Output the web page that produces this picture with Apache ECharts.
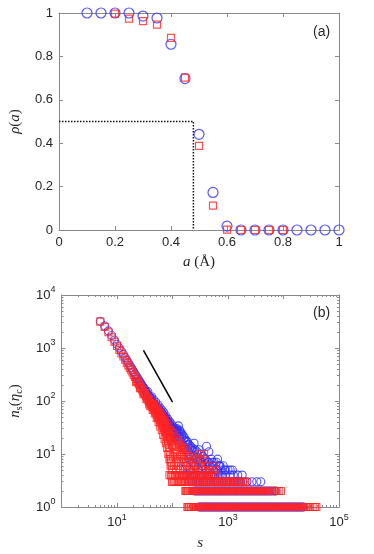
<!DOCTYPE html>
<html>
<head>
<meta charset="utf-8">
<script src="https://cdn.jsdelivr.net/npm/echarts@6/dist/echarts.min.js"></script>
<style>
  html, body { margin: 0; padding: 0; background: #fff; }
  #chart { width: 374px; height: 554px; }
</style>
</head>
<body>
<div id="chart"></div>
<script>
// ---- panel (a): rho(a) vs a ----
const aBlueX = [0.1, 0.15, 0.2, 0.25, 0.3, 0.35, 0.4, 0.45, 0.5, 0.55, 0.6, 0.65, 0.7, 0.75, 0.8, 0.85, 0.9, 0.95, 1.0];
const aBlueY = [1, 1, 1, 1, 0.986, 0.977, 0.856, 0.698, 0.441, 0.173, 0.018, 0, 0, 0, 0, 0, 0, 0, 0];
const aRedX = [0.2, 0.25, 0.3, 0.35, 0.4, 0.45, 0.5, 0.55, 0.6, 0.65, 0.7, 0.75, 0.8];
const aRedY = [0.997, 0.974, 0.963, 0.946, 0.885, 0.702, 0.388, 0.112, 0.002, 0, 0, 0, 0];
const dotX = [0, 0.48, 0.48];
const dotY = [0.5, 0.5, 0];

// ---- panel (b): n_s(eta_c) vs s ----
const blueHead = [[5,3200],[6,2600],[7,2100],[8,1720],[9,1420],[10,1180],[11,1000],[12,870],[13,760],[14,660],[15,590],[16,530],[17,470],[18,430],[19,390],[20,355],[21,325],[22,300],[23,278],[24,258],[25,240],[26,226],[27,212],[28,198],[29,188],[30,178]];
const blueMid = [[31,170],[32,158],[33,150],[34,146],[35,135],[36,132],[37,122],[38,121],[39,112],[40,116],[41,104],[42,101],[43,97],[44,95],[45,88],[46,90],[47,82],[48,84],[49,77],[50,83],[51,74],[52,76],[53,70],[54,72],[55,66],[56,74],[57,62],[58,68],[59,59],[60,64],[61,56],[62,61],[63,53],[64,60],[65,50],[66,56],[67,49],[68,53],[69,46],[70,52],[71,45],[72,50],[73,42],[74,47],[75,44],[76,40],[77,45],[78,38],[79,43],[80,36],[81,41],[82,35],[83,39],[84,33],[85,38],[86,32],[87,36],[88,30],[89,35],[90,31],[91,34],[92,28],[93,33],[94,27],[95,32],[96,26],[97,31],[98,25],[99,30],[100,27],[102,24],[104,29],[106,23],[108,28],[110,22],[112,26],[114,21],[116,27],[118,20],[120,25]];
const blueSpread = [[36,150],[42,120],[46,105],[50,95],[55,84],[60,74],[65,66],[70,60],[76,52],[82,46],[88,41],[95,37],[102,33],[110,31],[118,29],[126,27],[136,24],[146,21],[158,19],[172,17],[188,15],[205,13],[225,12],[250,11],[280,10]];
const blueTail = [[122,30],[125,24],[128,34],[131,21],[134,28],[137,19],[140,26],[144,17],[148,24],[152,15],[156,22],[160,14],[165,20],[170,13],[175,18],[180,12],[186,17],[192,11],[198,15],[205,10],[212,14],[220,9],[228,13],[236,9],[245,16],[255,12],[265,8],[276,11],[288,7],[300,12],[312,8],[326,10],[340,7],[355,9],[372,6],[390,8],[410,14],[430,7],[452,11],[476,6],[500,8],[530,6],[560,7],[600,5],[650,8],[700,6],[760,5],[820,6],[900,5],[1000,5],[1100,5],[1200,5],
  [180,6],[210,5],[245,6],[290,5],[340,6],[400,5],[470,5],[540,6],[640,5],[720,6],[870,5],[160,7],[200,8],[230,7],[260,6],[320,7],[380,8],[450,7],[520,7],[620,7],[680,6]];
const blueN4 = [150,162,175,190,205,222,240,260,281,304,329,356,385,416,450,487,527,570,617,667,722,781,900,1100,1250,1500,1800];
const blueN3 = [200,215,232,250,270,291,314,339,366,395,426,460,496,535,578,623,673,726,783,845,912,984,1062,1146,1237,1335,1440,1555,1680,1850,2200,2700,3300,3900];
const blueN2 = [250,268,290,312,335,362,390,418,450,485,521,560,603,648,697,750,806,867,932,1003,1078,1160,1247,1340,1442,1550,1667,1793,1928,2073,2229,2397,2578,2772,2980,3205,3446,3705,3985,4285,4607,4955,5330,5760,6200,6800,7300];
const blueN1 = [302,318,335,356,372,395,418,440,466,490,521,549,580,613,648,684,722,765,806,852,901,950,1005,1061,1120,1185,1250,1322,1396,1475,1558,1646,1740,1838,1942,2050,2168,2290,2420,2555,2700,2853,3015,3185,3364,3555,3756,3968,4193,4430,4680,4945,5225,5520,5833,6162,6512,6880,7270,7680,8115,8575,9060,9573,10110,10690,11290,11930,12610,13320,14070,14870,15710,16600,17540,18530,19580,20690,21860,23100];

const redHead = [[5,3150],[6,2500],[7,1980],[8,1600],[9,1320],[10,1090],[11,920],[12,790],[13,690],[14,600],[15,530],[16,470],[17,420],[18,380],[19,345],[20,310],[21,285],[22,260],[23,240],[24,222],[25,205],[26,192],[27,178],[28,168],[29,156],[30,148]];
const redMid = [[31,140],[32,134],[33,124],[34,121],[35,110],[36,112],[37,101],[38,104],[39,93],[40,95],[41,86],[42,88],[43,79],[44,84],[45,73],[46,78],[47,68],[48,71],[49,63],[50,72],[51,58],[52,67],[53,55],[54,64],[55,50],[56,61],[57,47],[58,56],[59,44],[60,52],[61,42],[62,49],[63,39],[64,46],[65,36],[66,44],[67,34],[68,41],[69,31],[70,39],[71,29],[72,36],[73,27],[74,34],[75,26],[76,31],[77,24],[78,30],[79,21],[80,28],[81,19],[82,27],[83,17],[84,25],[85,15],[86,24],[87,13],[88,22],[89,11],[90,21],[91,9],[92,19],[93,8],[94,18],[95,7],[96,17],[97,6],[98,15],[99,5],[100,14]];
const redSpread = [[22,230],[26,175],[30,135],[34,108],[38,86],[40,80],[44,68],[48,58],[52,48],[56,40],[60,33],[64,28],[68,23],[72,19],[76,16],[80,13],[84,10],[88,8],[92,6],[96,4],[98,3],
  [45,90],[50,80],[55,70],[60,60],[66,52],[72,44],[78,38],[85,33],[92,28],[100,25],[108,22],[116,20],[124,18],[134,16],[146,14],[160,13],[178,12]];
const redTail = [[102,9],[104,14],[106,6],[108,10],[110,4],[112,12],[114,7],[116,5],[118,18],[120,9],[123,11],[126,6],[129,8],[130,15],[132,4],[135,10],[138,5],[141,7],[145,13],[149,9],[153,6],[157,4],[160,12],[161,8],[165,5],[175,11],[175,7],[180,4],[186,6],[190,10],[192,9],[198,5],[210,9],[212,7],[220,4],[228,6],[236,5],[240,8],[245,8],[255,4],[265,6],[270,8],[288,5],[300,7],[310,10],[312,4],[326,6],[340,5],[350,8],[355,4],[372,10],[390,5],[410,4],[430,6],[452,4],[476,5],[500,4],[530,6],[560,4],[600,5]];
const redN4 = [88,95,103,111,120,130,141,153,166,180,195,212,230,250,272,296,322,350,380,440,520,600];
const redN3 = [100,106,113,119,126,134,142,150,159,168,178,189,200,212,225,238,252,267,283,300,318,337,357,378,401,425,450,477,505,535,568,602,638,676,716,759,804,852,903,957,1014,1075,1139,1207,1280,1356,1437,1523,1614,1710,1850,2000,2150];
const redN2 = [170,176,183,190,196,205,212,219,228,236,246,254,264,274,285,295,306,318,330,343,356,369,383,398,413,429,445,462,480,498,517,537,557,579,601,624,648,673,699,725,753,782,812,843,875,909,944,980,1017,1056,1097,1139,1182,1228,1275,1324,1374,1427,1482,1538,1597,1658,1722,1788,1857,1928,2002,2079,2158,2241,2327,2416,2509,2605,2705,2809,2917,3029,3145,3265,3391,3521,3656,3796,3942,4093,4250,4413,4582,4758,4940,5130,5330,5600,5870,6200,6550,7000,7500,8200,9000];
const redN1 = [185,193,198,210,216,229,237,246,260,268,281,293,301,318,327,342,355,368,384,397,415,428,447,463,480,502,517,539,558,581,602,626,650,671,700,724,752,783,809,842,873,905,941,976,1012,1055,1090,1134,1172,1220,1265,1311,1362,1417,1466,1523,1580,1642,1700,1768,1831,1900,1977,2051,2130,2208,2296,2381,2470,2569,2661,2765,2870,2983,3092,3210,3338,3459,3596,3730,3874,4022,4180,4335,4508,4677,4860,5043,5240,5440,5650,5861,6092,6320,6571,6815,7083,7350,7634,7925,8232,8540,8873,9210,9570,9930,10320,10710,11130,11560,12020,12470,12960,13440,13990,14520,15080,15650,16260,16880,17530,18200,18900,19620,20390,21170,22000,23280,24900,26200,28100,30400,33500,36800,39100];

const guideS = [30, 100];
const guideN = [900, 95];

const blue = '#2e2eff';
const red = '#ff2424';
const axisGray = '#8a8a8a';
const textDark = '#262626';
const sans = 'Liberation Sans, Arial, sans-serif';
const serif = 'Liberation Serif, DejaVu Serif, serif';

const row = (list, n) => list.map((s) => [s, n]);
const zip = (xs, ys) => xs.map((x, i) => [x, ys[i]]);

const blueB = [].concat(blueHead, blueMid, blueSpread, blueTail, row(blueN4, 4), row(blueN3, 3), row(blueN2, 2), row(blueN1, 1));
const redB = [].concat(redHead, redMid, redSpread, redTail, row(redN4, 4), row(redN3, 3), row(redN2, 2), row(redN1, 1));

const italic = { fontStyle: 'italic', fontFamily: serif, fontSize: 15, color: textDark };

function linAxis(grid, pos, extra) {
  const main = pos === 'bottom' || pos === 'left';
  return Object.assign({
    gridIndex: grid,
    type: 'value',
    position: pos,
    min: 0,
    max: 1,
    interval: 0.2,
    axisLine: { show: true, onZero: false, lineStyle: { color: axisGray, width: 1 } },
    axisTick: { show: true, inside: true, length: 4, lineStyle: { color: axisGray } },
    axisLabel: { show: main, color: textDark, fontSize: 13, fontFamily: sans, margin: 6 },
    splitLine: { show: false }
  }, extra);
}

function logAxis(grid, pos, max, extra) {
  const main = pos === 'bottom' || pos === 'left';
  return Object.assign({
    gridIndex: grid,
    type: 'log',
    logBase: 10,
    position: pos,
    min: 1,
    max: max,
    axisLine: { show: true, onZero: false, lineStyle: { color: axisGray, width: 1 } },
    axisTick: { show: true, inside: true, length: 4, lineStyle: { color: axisGray } },
    minorTick: { show: true, splitNumber: 9, length: 2, lineStyle: { color: axisGray } },
    axisLabel: {
      show: main, color: textDark, fontSize: 13, fontFamily: sans, margin: 6,
      rich: { sup: { fontSize: 9, fontFamily: sans, color: textDark, padding: [0, 0, 10, 0] } }
    },
    splitLine: { show: false }
  }, extra);
}

const chart = echarts.init(document.getElementById('chart'), null, { renderer: 'canvas' });

const option = {
  animation: false,
  backgroundColor: '#fff',
  grid: [
    { left: 48, top: 13, width: 291, height: 217 },
    { left: 48, top: 295, width: 291, height: 212 }
  ],
  xAxis: [
    linAxis(0, 'bottom', {
      name: '{i|a} (Å)', nameLocation: 'middle', nameGap: 25,
      nameTextStyle: { fontFamily: serif, fontSize: 15, color: textDark, rich: { i: italic } },
      axisLabel: {
        show: true, color: textDark, fontSize: 13, fontFamily: sans, margin: 6,
        formatter: (v) => (v === 0 || v === 1 ? String(v) : v.toFixed(1))
      }
    }),
    linAxis(0, 'top'),
    logAxis(1, 'bottom', 100000, {
      name: '{i|s}', nameLocation: 'middle', nameGap: 29,
      nameTextStyle: { rich: { i: italic } }
    }),
    logAxis(1, 'top', 100000)
  ],
  yAxis: [
    linAxis(0, 'left', {
      name: '{i|ρ}({i|a})', nameLocation: 'middle', nameGap: 36, nameRotate: 90,
      nameTextStyle: { fontFamily: serif, fontSize: 15, color: textDark, rich: { i: italic } },
      axisLabel: {
        show: true, color: textDark, fontSize: 13, fontFamily: sans, margin: 6,
        formatter: (v) => (v === 0 || v === 1 ? String(v) : v.toFixed(1))
      }
    }),
    linAxis(0, 'right'),
    logAxis(1, 'left', 10000, {
      name: '{i|n}{sub|s}({i|η}{sub|c})', nameLocation: 'middle', nameGap: 37, nameRotate: 90,
      nameTextStyle: {
        fontFamily: serif, fontSize: 15, color: textDark,
        rich: { i: italic, sub: { fontFamily: serif, fontSize: 10, color: textDark, padding: [8, 0, 0, 0] } }
      }
    }),
    logAxis(1, 'right', 10000)
  ],
  graphic: [
    { type: 'text', left: 313, top: 25, style: { text: '(a)', fontSize: 14, fontFamily: sans, fill: textDark } },
    { type: 'text', left: 313, top: 306, style: { text: '(b)', fontSize: 14, fontFamily: sans, fill: textDark } }
  ],
  series: [
    {
      type: 'line', xAxisIndex: 0, yAxisIndex: 0, data: zip(dotX, dotY),
      symbol: 'none', lineStyle: { color: '#111', width: 1.5, type: [1.5, 1.5] }, z: 1
    },
    {
      type: 'scatter', xAxisIndex: 0, yAxisIndex: 0, data: zip(aBlueX, aBlueY),
      symbol: 'circle', symbolSize: 10,
      itemStyle: { color: 'rgba(0,0,0,0)', borderColor: blue, borderWidth: 1.2 }, z: 2
    },
    {
      type: 'scatter', xAxisIndex: 0, yAxisIndex: 0, data: zip(aRedX, aRedY),
      symbol: 'rect', symbolSize: 7,
      itemStyle: { color: 'rgba(0,0,0,0)', borderColor: red, borderWidth: 1.2 }, z: 3
    },
    {
      type: 'scatter', xAxisIndex: 2, yAxisIndex: 2, data: blueB,
      symbol: 'circle', symbolSize: 8, large: false,
      itemStyle: { color: 'rgba(0,0,0,0)', borderColor: blue, borderWidth: 1.1 }, z: 2
    },
    {
      type: 'scatter', xAxisIndex: 2, yAxisIndex: 2, data: redB,
      symbol: 'rect', symbolSize: 7, large: false,
      itemStyle: { color: 'rgba(0,0,0,0)', borderColor: red, borderWidth: 1.1 }, z: 3
    },
    {
      type: 'line', xAxisIndex: 2, yAxisIndex: 2, data: zip(guideS, guideN),
      symbol: 'none', lineStyle: { color: '#000', width: 1.5 }, z: 4
    }
  ]
};

option.xAxis[2].axisLabel.formatter = (v) => {
  const e = Math.round(Math.log10(v));
  return e % 2 === 1 ? '10{sup|' + e + '}' : '';
};
option.yAxis[2].axisLabel.formatter = (v) => '10{sup|' + Math.round(Math.log10(v)) + '}';

chart.setOption(option);
</script>
</body>
</html>
